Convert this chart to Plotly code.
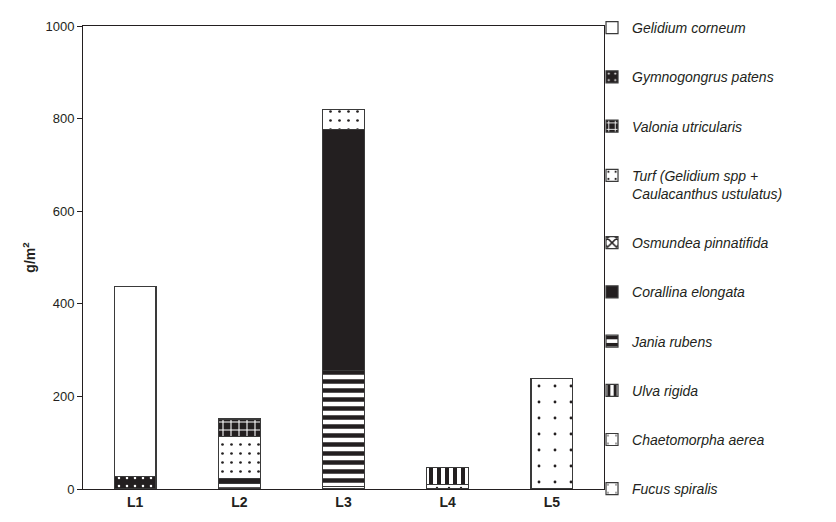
import plotly.graph_objects as go

# Sampling sites
sites = ["L1", "L2", "L3", "L4", "L5"]

# Biomass (g/m2) per species and site; None = species absent
fucus_spiralis = [None, None, 6, None, 238]
chaetomorpha_aerea = [None, None, None, 10, None]
ulva_rigida = [None, None, None, 36, None]
jania_rubens = [None, 12, 250, None, None]
corallina_elongata = [None, 10, 521, None, None]
osmundea_pinnatifida = [None, None, None, None, None]
turf = [None, 91, 42, None, None]
valonia_utricularis = [None, 38, None, None, None]
gymnogongrus_patens = [27, None, None, None, None]
gelidium_corneum = [410, None, None, None, None]

INK = "#231f20"
WHITE = "#ffffff"

# Stacked bottom -> top: (label, values, pattern shape, background, foreground, tile size, solidity)
series = [
    ("Fucus spiralis", fucus_spiralis, ".", WHITE, INK, 16, 0.025),
    ("Chaetomorpha aerea", chaetomorpha_aerea, ".", WHITE, INK, 12, 0.03),
    ("Ulva rigida", ulva_rigida, "|", WHITE, INK, 8, 0.5),
    ("Jania rubens", jania_rubens, "-", WHITE, INK, 9, 0.5),
    ("Corallina elongata", corallina_elongata, "", INK, INK, 8, 0.3),
    ("Osmundea pinnatifida", osmundea_pinnatifida, "x", WHITE, INK, 8, 0.4),
    ("Turf (Gelidium spp +<br>Caulacanthus ustulatus)", turf, ".", WHITE, INK, 9, 0.07),
    ("Valonia utricularis", valonia_utricularis, "+", INK, WHITE, 8, 0.25),
    ("Gymnogongrus patens", gymnogongrus_patens, ".", INK, WHITE, 8, 0.08),
    ("Gelidium corneum", gelidium_corneum, "", WHITE, WHITE, 8, 0.3),
]

fig = go.Figure()
n = len(series)
for i, (name, vals, shape, bg, fg, size, sol) in enumerate(series):
    fig.add_trace(go.Bar(
        x=sites,
        y=vals,
        name=name,
        legendgroup=f"g{i}",
        legendrank=n - i,
        marker=dict(
            color=bg,
            line=dict(color="#3a3a3a", width=1.2),
            pattern=dict(shape=shape, bgcolor=bg, fgcolor=fg,
                         size=size, solidity=sol, fillmode="replace"),
        ),
    ))

fig.update_layout(
    width=836,
    height=522,
    margin=dict(l=83, r=232, t=18, b=28),
    barmode="stack",
    bargap=0.6,
    plot_bgcolor="white",
    paper_bgcolor="white",
    font=dict(family="Liberation Sans, Arial, sans-serif", size=13, color=INK),
    showlegend=True,
    legend=dict(
        x=0.977, xanchor="left",
        y=1.03, yanchor="top",
        traceorder="grouped",
        tracegroupgap=28,
        maxheight=520,
        font=dict(size=14, style="italic", color=INK),
        itemwidth=30,
        valign="top",
        bgcolor="rgba(0,0,0,0)",
    ),
    xaxis=dict(
        showline=True, linecolor=INK, linewidth=1, mirror=True,
        ticks="", tickfont=dict(size=14, weight="bold"),
        showgrid=False,
    ),
    yaxis=dict(
        range=[0, 1000],
        tickvals=[0, 200, 400, 600, 800, 1000],
        showline=True, linecolor=INK, linewidth=1, mirror=True,
        ticks="outside", ticklen=5, tickcolor=INK,
        showgrid=False, zeroline=False,
        title=dict(text="<b>g/m<sup>2</sup></b>", font=dict(size=14), standoff=6),
    ),
)

fig.write_html("out.html")
